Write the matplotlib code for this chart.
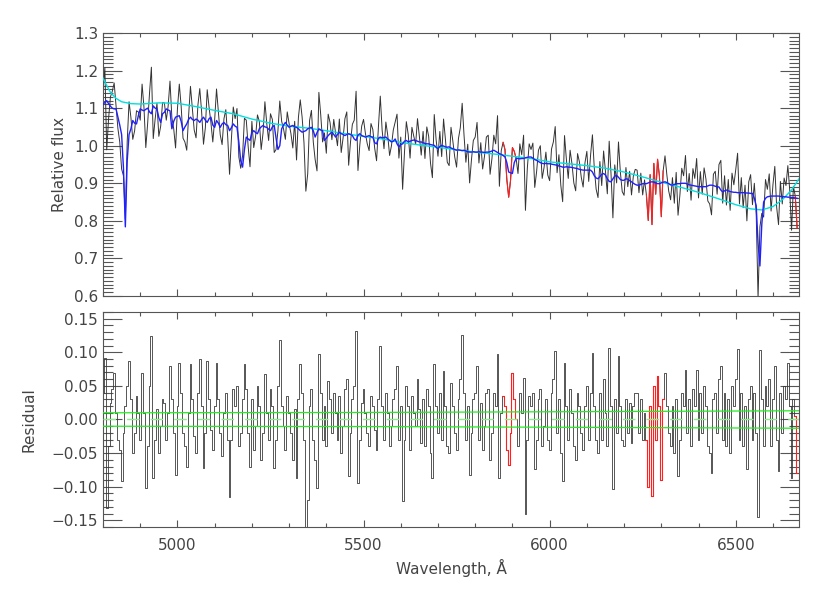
import numpy as np
import matplotlib
matplotlib.use("Agg")
import matplotlib.pyplot as plt
from matplotlib.ticker import MultipleLocator

# ---------------- data ----------------
wave = np.arange(4800, 6670, 5)  # 5 A sampling of the spectrum

model = [
    1.110, 1.115, 1.120, 1.112, 1.105, 1.100, 1.098, 1.098, 1.076, 1.055, 1.030, 0.940, 0.784, 0.960, 1.030, 1.045, 1.067, 1.060, 1.058, 1.080,
    1.098, 1.095, 1.093, 1.097, 1.100, 1.090, 1.085, 1.106, 1.100, 1.098, 1.075, 1.062, 1.085, 1.089, 1.098, 1.095, 1.093, 1.045, 1.065, 1.076,
    1.078, 1.080, 1.065, 1.040, 1.050, 1.058, 1.070, 1.076, 1.070, 1.067, 1.071, 1.068, 1.062, 1.070, 1.076, 1.068, 1.062, 1.072, 1.076, 1.055,
    1.049, 1.067, 1.060, 1.049, 1.058, 1.062, 1.056, 1.054, 1.040, 1.048, 1.058, 1.052, 1.049, 1.010, 0.960, 0.943, 0.990, 1.023, 1.018, 1.014,
    1.035, 1.040, 1.035, 1.032, 1.045, 1.050, 1.054, 1.050, 1.049, 1.044, 1.040, 1.050, 1.054, 1.020, 0.990, 1.000, 1.045, 1.055, 1.062, 1.055,
    1.049, 1.052, 1.054, 1.050, 1.049, 1.045, 1.040, 1.036, 1.038, 1.040, 1.045, 1.047, 1.049, 1.040, 1.023, 1.035, 1.045, 1.042, 1.040, 1.014,
    1.020, 1.027, 1.032, 1.036, 1.030, 1.023, 1.030, 1.036, 1.032, 1.030, 1.027, 1.030, 1.032, 1.030, 1.027, 1.018, 1.014, 1.028, 1.032, 1.027,
    1.025, 1.023, 1.025, 1.027, 1.024, 1.023, 1.008, 1.005, 1.020, 1.023, 1.021, 1.022, 1.023, 1.018, 1.014, 1.010, 1.012, 1.018, 1.005, 0.997,
    1.003, 1.005, 1.012, 1.014, 1.010, 1.012, 1.014, 1.015, 1.014, 1.012, 1.010, 1.010, 1.008, 1.006, 1.005, 1.005, 1.003, 1.002, 1.001, 0.996,
    0.992, 0.998, 1.001, 0.999, 0.997, 0.996, 0.997, 0.994, 0.992, 0.990, 0.988, 0.989, 0.988, 0.987, 0.988, 0.986, 0.984, 0.983, 0.983, 0.984,
    0.983, 0.983, 0.984, 0.983, 0.983, 0.982, 0.983, 0.983, 0.984, 0.986, 0.988, 0.985, 0.982, 0.979, 0.977, 0.974, 0.970, 0.955, 0.930, 0.928,
    0.926, 0.955, 0.966, 0.966, 0.965, 0.966, 0.966, 0.968, 0.969, 0.970, 0.970, 0.967, 0.963, 0.961, 0.958, 0.955, 0.953, 0.952, 0.953, 0.952,
    0.952, 0.951, 0.950, 0.949, 0.948, 0.946, 0.945, 0.943, 0.943, 0.944, 0.943, 0.943, 0.942, 0.941, 0.940, 0.939, 0.937, 0.936, 0.935, 0.935,
    0.935, 0.935, 0.935, 0.930, 0.920, 0.914, 0.912, 0.918, 0.924, 0.926, 0.922, 0.912, 0.905, 0.904, 0.912, 0.919, 0.921, 0.916, 0.910, 0.908,
    0.908, 0.912, 0.911, 0.907, 0.904, 0.900, 0.897, 0.895, 0.895, 0.897, 0.899, 0.899, 0.899, 0.901, 0.903, 0.904, 0.903, 0.901, 0.899, 0.899,
    0.901, 0.903, 0.904, 0.902, 0.899, 0.896, 0.895, 0.897, 0.899, 0.899, 0.899, 0.900, 0.900, 0.900, 0.898, 0.896, 0.895, 0.894, 0.893, 0.892,
    0.891, 0.891, 0.891, 0.891, 0.891, 0.893, 0.895, 0.895, 0.894, 0.892, 0.891, 0.890, 0.882, 0.877, 0.880, 0.882, 0.880, 0.878, 0.877, 0.876,
    0.876, 0.875, 0.875, 0.875, 0.875, 0.875, 0.874, 0.874, 0.873, 0.873, 0.860, 0.840, 0.740, 0.680, 0.790, 0.850, 0.860, 0.864, 0.865, 0.866,
    0.866, 0.866, 0.866, 0.866, 0.865, 0.865, 0.864, 0.864, 0.863, 0.863, 0.862, 0.862, 0.861, 0.860,
]

residual = [
    0.040, 0.092, -0.131, -0.040, 0.025, 0.045, 0.069, 0.010, -0.030, -0.045, -0.092, -0.020, 0.020, 0.050, 0.087, 0.030, -0.050, -0.020, 0.035, 0.010,
    -0.030, 0.069, 0.010, -0.102, -0.040, 0.050, 0.124, -0.087, -0.030, 0.015, -0.050, -0.010, 0.030, 0.025, -0.030, 0.010, 0.079, 0.030, -0.020, -0.082,
    0.020, 0.084, 0.040, -0.020, -0.040, -0.070, 0.010, 0.082, 0.030, -0.025, -0.050, 0.040, 0.090, 0.020, -0.072, -0.020, 0.087, 0.030, -0.015, -0.045,
    0.020, 0.084, 0.030, -0.020, -0.055, 0.010, 0.040, -0.030, -0.116, -0.030, 0.045, 0.020, 0.050, -0.040, -0.020, 0.030, 0.083, 0.045, -0.020, -0.070,
    0.030, -0.045, -0.010, 0.050, 0.020, -0.060, -0.020, 0.067, 0.010, -0.030, 0.045, 0.020, -0.072, -0.030, 0.050, 0.119, 0.020, -0.010, -0.045, 0.035,
    0.010, -0.020, -0.060, 0.015, -0.087, 0.030, 0.082, 0.040, -0.030, -0.161, -0.120, 0.020, 0.045, -0.030, -0.060, -0.102, 0.097, 0.040, -0.030, 0.020,
    -0.040, 0.057, 0.030, -0.020, 0.040, 0.010, -0.030, 0.035, -0.050, -0.010, 0.045, 0.060, -0.084, -0.020, 0.030, 0.050, 0.131, -0.094, -0.030, 0.025,
    0.045, 0.010, -0.020, -0.040, 0.035, 0.020, -0.015, -0.045, 0.030, 0.109, 0.020, -0.030, 0.040, 0.010, -0.040, -0.010, 0.030, 0.045, 0.079, -0.030,
    0.020, -0.121, -0.030, 0.050, 0.020, -0.045, 0.035, 0.010, -0.010, 0.060, 0.015, -0.035, 0.030, -0.040, 0.045, 0.020, -0.050, -0.087, 0.082, 0.020,
    -0.020, 0.040, -0.030, 0.072, 0.020, -0.040, -0.050, 0.055, 0.020, -0.020, -0.045, 0.030, 0.060, 0.126, 0.040, -0.030, 0.020, -0.082, -0.020, 0.030,
    0.040, 0.079, -0.030, 0.025, -0.045, -0.010, 0.040, 0.045, -0.060, -0.020, 0.040, 0.020, 0.098, -0.087, 0.010, 0.035, 0.020, -0.045, -0.067, -0.020,
    0.069, 0.030, 0.000, -0.040, 0.040, 0.010, 0.062, -0.140, -0.030, 0.035, 0.020, 0.040, -0.074, -0.030, 0.030, 0.045, -0.040, -0.010, 0.030, -0.030,
    -0.045, 0.040, 0.060, 0.102, -0.020, 0.030, -0.050, -0.092, 0.084, 0.020, -0.030, 0.045, 0.010, -0.040, -0.060, 0.040, 0.020, -0.020, -0.045, 0.020,
    0.050, -0.030, 0.040, 0.099, 0.020, -0.030, -0.050, 0.040, -0.030, 0.060, 0.010, -0.040, 0.107, 0.020, -0.104, 0.030, -0.020, 0.094, 0.020, -0.030,
    -0.040, 0.030, -0.020, 0.025, -0.035, 0.020, 0.040, 0.040, -0.020, 0.030, -0.030, 0.010, -0.030, -0.100, 0.020, -0.114, 0.050, -0.030, 0.065, 0.020,
    -0.090, 0.030, 0.069, 0.020, -0.020, -0.040, 0.020, -0.050, 0.030, -0.084, -0.030, 0.040, 0.020, 0.074, -0.020, 0.030, -0.040, 0.045, 0.020, 0.074,
    -0.030, 0.040, -0.020, 0.050, 0.020, -0.040, -0.050, -0.079, 0.030, 0.040, -0.020, 0.060, 0.079, -0.030, 0.040, -0.040, 0.030, -0.050, 0.050, 0.020,
    0.060, 0.105, -0.030, 0.040, -0.040, 0.020, -0.074, 0.030, 0.050, -0.030, 0.040, -0.020, -0.145, 0.104, 0.030, -0.040, 0.050, 0.020, 0.060, -0.040,
    0.030, 0.079, -0.030, -0.076, 0.040, -0.020, 0.050, 0.030, 0.084, 0.020, -0.087, 0.030, 0.005, -0.080,
]

# smooth continuum (cyan)
cont_wave = [4800, 4810, 4820, 4835, 4850, 4875, 4900, 4950, 5000, 5050, 5100, 5150, 5200, 5250, 5300,
             5350, 5400, 5450, 5500, 5550, 5600, 5650, 5700, 5750, 5800, 5850, 5900, 5950, 6000, 6050,
             6100, 6150, 6200, 6250, 6300, 6350, 6400, 6450, 6500, 6540, 6570, 6600, 6625, 6650, 6670]
cont_flux = [1.180, 1.160, 1.142, 1.126, 1.117, 1.112, 1.111, 1.114, 1.113, 1.104, 1.094, 1.085, 1.071, 1.060, 1.052,
             1.047, 1.040, 1.032, 1.025, 1.018, 1.009, 1.002, 0.996, 0.989, 0.983, 0.978, 0.972, 0.966, 0.957, 0.952,
             0.947, 0.940, 0.930, 0.917, 0.903, 0.890, 0.876, 0.860, 0.843, 0.832, 0.829, 0.838, 0.856, 0.882, 0.912]

# residual scatter band (green)
band_wave = [4800, 5500, 6000, 6670]
band_hi = [0.010, 0.0105, 0.0115, 0.013]
band_lo = [-0.010, -0.0105, -0.0115, -0.013]

# masked (red) wavelength intervals
mask_ranges = [(5875, 5910), (6260, 6305), (6660, 6670)]

# ---------------- derived ----------------
model = np.array(model)
residual = np.array(residual)
flux = model + residual
mask = np.zeros(wave.size, bool)
for lo, hi in mask_ranges:
    mask |= (wave >= lo) & (wave <= hi)

# ---------------- figure ----------------
W, H = 830, 593
fig = plt.figure(figsize=(W / 100, H / 100), dpi=100)
left, right = 103 / W, 799 / W
ax1 = fig.add_axes([left, 1 - 296 / H, right - left, 263 / H])
ax2 = fig.add_axes([left, 1 - 527 / H, right - left, 215 / H])

txtc = '#444444'
fs = 11

ax1.plot(wave, flux, color='#333333', lw=0.7, zorder=2)
ax1.plot(wave, np.where(mask, flux, np.nan), color='#ff2020', lw=0.8, zorder=3)
ax1.plot(cont_wave, cont_flux, color='#00e0e0', lw=1.0, zorder=4)
ax1.plot(wave, model, color='#2020ff', lw=1.0, zorder=5)

ax2.plot(wave, residual, color='#3a3a3a', lw=0.6, drawstyle='steps-mid', zorder=2)
ax2.plot(wave, np.where(mask, residual, np.nan), color='#ff2020', lw=0.8,
         drawstyle='steps-mid', zorder=3)
ax2.plot(band_wave, band_hi, color='#22ee22', lw=0.9, zorder=4)
ax2.plot(band_wave, band_lo, color='#22ee22', lw=0.9, zorder=4)
ax2.plot([4800, 6670], [0, 0], color='#88ee88', lw=1.0, dashes=(9, 8), zorder=4)

for ax in (ax1, ax2):
    ax.set_xlim(4800, 6670)
    ax.xaxis.set_major_locator(MultipleLocator(500))
    ax.xaxis.set_minor_locator(MultipleLocator(100))
    for s in ax.spines.values():
        s.set_color('#555555')
        s.set_linewidth(0.8)
    ax.tick_params(which='both', direction='in', top=True, right=True,
                   colors='#555555', labelcolor=txtc, labelsize=fs, width=0.8)
    ax.tick_params(axis='y', which='major', length=14)
    ax.tick_params(axis='y', which='minor', length=7)

ax1.set_ylim(0.6, 1.3)
ax1.yaxis.set_major_locator(MultipleLocator(0.1))
ax1.yaxis.set_minor_locator(MultipleLocator(0.01))
ax1.yaxis.set_major_formatter(plt.FormatStrFormatter('%.1f'))
ax1.tick_params(axis='x', which='major', length=5, labelbottom=False)
ax1.tick_params(axis='x', which='minor', length=3)
ax1.set_ylabel('Relative flux', fontsize=fs, color=txtc, labelpad=5)

ax2.set_ylim(-0.16, 0.16)
ax2.yaxis.set_major_locator(MultipleLocator(0.05))
ax2.yaxis.set_minor_locator(MultipleLocator(0.01))
ax2.yaxis.set_major_formatter(plt.FuncFormatter(lambda v, p: ('%.2f' % v).replace('-', '\u2212') if abs(v) > 1e-9 else '0.00'))
ax2.tick_params(axis='x', which='major', length=5, pad=8)
ax2.tick_params(axis='x', which='minor', length=3)
ax2.set_ylabel('Residual', fontsize=fs, color=txtc, labelpad=11)
ax2.set_xlabel('Wavelength, \u00c5', fontsize=fs, color=txtc, labelpad=4)

fig.savefig('out.png', dpi=100)
